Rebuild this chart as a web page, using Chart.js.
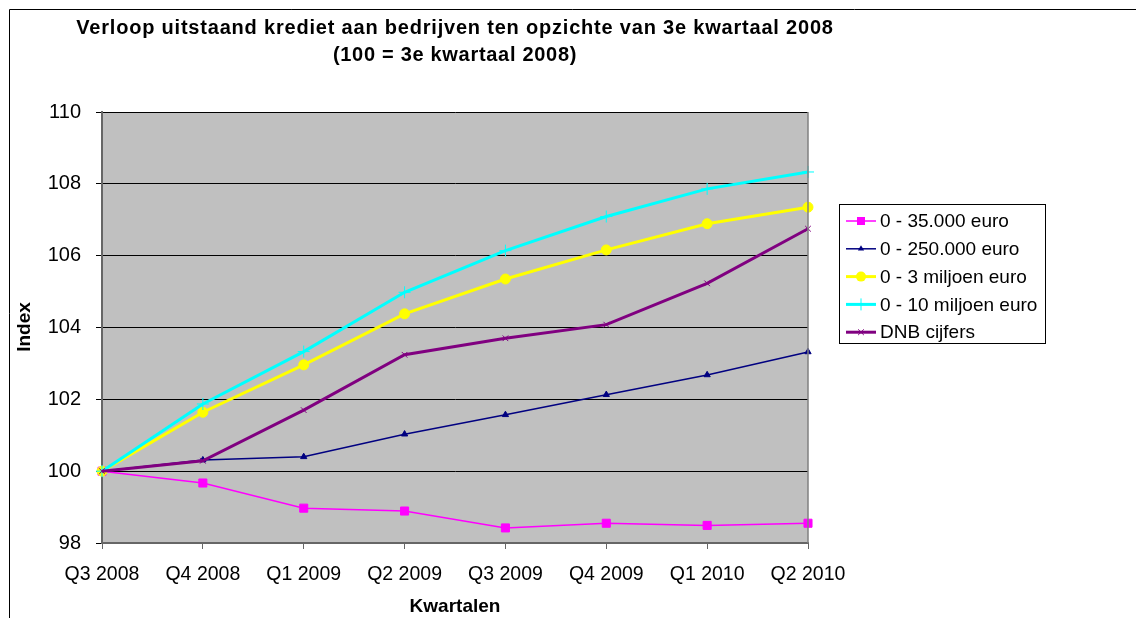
<!DOCTYPE html>
<html>
<head>
<meta charset="utf-8">
<title>Verloop uitstaand krediet</title>
<script src="https://cdn.jsdelivr.net/npm/chart.js"></script>
<style>
    body { margin: 0; background: #fff; }
    #wrap { width: 1136px; height: 618px; position: relative; }
</style>
</head>
<body>
<div id="wrap"><canvas id="chart" width="1136" height="618"></canvas></div>
<script>
// Chart data
const quarters = ['Q3 2008', 'Q4 2008', 'Q1 2009', 'Q2 2009', 'Q3 2009', 'Q4 2009', 'Q1 2010', 'Q2 2010'];
const upTo35k = [100, 99.67, 98.97, 98.89, 98.42, 98.55, 98.49, 98.55];
const upTo250k = [100, 100.31, 100.40, 101.03, 101.57, 102.13, 102.68, 103.32];
const upTo3m = [100, 101.64, 102.96, 104.38, 105.35, 106.16, 106.89, 107.35];
const upTo10m = [100, 101.87, 103.33, 104.98, 106.14, 107.09, 107.86, 108.33];
const dnb = [100, 100.29, 101.70, 103.24, 103.70, 104.08, 105.23, 106.75];
const yTicks = [98, 100, 102, 104, 106, 108, 110];

const FONT = '"Liberation Sans", Arial, sans-serif';

// Series styling (legend order)
const series = [
    { label: '0 - 35.000 euro', data: upTo35k, color: '#FF00FF', width: 1.5, style: 'rect', radius: 5.7 },
    { label: '0 - 250.000 euro', data: upTo250k, color: '#000080', width: 1.5, style: 'triangle', radius: 3.6 },
    { label: '0 - 3 miljoen euro', data: upTo3m, color: '#FFFF00', width: 3, style: 'circle', radius: 5 },
    { label: '0 - 10 miljoen euro', data: upTo10m, color: '#00FFFF', width: 3, style: 'cross', radius: 6 },
    { label: 'DNB cijfers', data: dnb, color: '#800080', width: 3, style: 'crossRot', radius: 4 }
];

// Simple marker drawing for the legend
function drawMarker(ctx, s, x, y) {
    const r = s.radius;
    ctx.save();
    ctx.fillStyle = s.color;
    ctx.strokeStyle = s.color;
    ctx.lineWidth = 1;
    ctx.beginPath();
    if (s.style === 'rect') {
        const h = r * Math.SQRT1_2;
        ctx.rect(x - h, y - h, 2 * h, 2 * h);
        ctx.fill();
    } else if (s.style === 'triangle') {
        ctx.moveTo(x, y - r);
        ctx.lineTo(x + r * 0.866, y + r * 0.5);
        ctx.lineTo(x - r * 0.866, y + r * 0.5);
        ctx.closePath();
        ctx.fill();
    } else if (s.style === 'circle') {
        ctx.arc(x, y, r, 0, Math.PI * 2);
        ctx.fill();
    } else if (s.style === 'cross') {
        ctx.moveTo(x - r, y); ctx.lineTo(x + r, y);
        ctx.moveTo(x, y - r); ctx.lineTo(x, y + r);
        ctx.stroke();
    } else {
        const o = r * Math.SQRT1_2;
        ctx.moveTo(x - o, y - o); ctx.lineTo(x + o, y + o);
        ctx.moveTo(x - o, y + o); ctx.lineTo(x + o, y - o);
        ctx.stroke();
    }
    ctx.restore();
}

// Background, frame, titles and legend
const excelLook = {
    id: 'excelLook',
    beforeDraw(chart) {
        const { ctx, chartArea: a } = chart;
        ctx.save();
        ctx.fillStyle = '#C0C0C0';
        ctx.fillRect(a.left, a.top, a.right - a.left, a.bottom - a.top);
        ctx.restore();
    },
    afterDraw(chart) {
        const { ctx, chartArea: a } = chart;
        ctx.save();
        // plot border right
        ctx.strokeStyle = '#808080';
        ctx.lineWidth = 1.5;
        ctx.beginPath();
        ctx.moveTo(a.right, a.top);
        ctx.lineTo(a.right, a.bottom);
        ctx.stroke();

        // outer frame
        ctx.strokeStyle = '#000';
        ctx.lineWidth = 1;
        ctx.beginPath();
        ctx.moveTo(9.5, 618);
        ctx.lineTo(9.5, 9.5);
        ctx.lineTo(1136, 9.5);
        ctx.stroke();

        // titles
        ctx.fillStyle = '#000';
        ctx.textAlign = 'center';
        ctx.textBaseline = 'middle';
        const cx = (a.left + a.right) / 2;
        ctx.font = 'bold 20px ' + FONT;
        ctx.letterSpacing = '0.8px';
        ctx.fillText('Verloop uitstaand krediet aan bedrijven ten opzichte van 3e kwartaal 2008', cx, 28);
        ctx.letterSpacing = '0.7px';
        ctx.fillText('(100 = 3e kwartaal 2008)', cx, 55);
        ctx.letterSpacing = '0px';
        ctx.font = 'bold 19px ' + FONT;
        ctx.fillText('Kwartalen', cx, 607);
        ctx.save();
        ctx.translate(25, 327);
        ctx.rotate(-Math.PI / 2);
        ctx.fillText('Index', 0, 0);
        ctx.restore();

        // legend
        ctx.fillStyle = '#fff';
        ctx.fillRect(839.5, 204.5, 206, 139);
        ctx.strokeStyle = '#000';
        ctx.lineWidth = 1;
        ctx.strokeRect(839.5, 204.5, 206, 139);
        ctx.font = '19px ' + FONT;
        ctx.textAlign = 'left';
        series.forEach((s, i) => {
            const y = 221 + i * 27.8;
            ctx.strokeStyle = s.color;
            ctx.lineWidth = s.width;
            ctx.beginPath();
            ctx.moveTo(846, y);
            ctx.lineTo(876, y);
            ctx.stroke();
            drawMarker(ctx, s, 861, y);
            ctx.fillStyle = '#000';
            ctx.fillText(s.label, 880, y + 1);
        });
        ctx.restore();
    }
};

new Chart(document.getElementById('chart'), {
    type: 'line',
    data: {
        labels: quarters,
        datasets: series.map((s, i) => ({
            label: s.label,
            data: s.data,
            borderColor: s.color,
            backgroundColor: s.color,
            borderWidth: s.width,
            pointStyle: s.style,
            pointRadius: s.radius,
            pointBorderWidth: 1,
            pointBorderColor: s.color,
            pointBackgroundColor: s.color,
            tension: 0,
            fill: false,
            order: series.length - i
        }))
    },
    options: {
        responsive: false,
        animation: false,
        devicePixelRatio: 1,
        layout: { padding: { top: 112, right: 328, left: 0, bottom: 0 } },
        plugins: {
            legend: { display: false },
            title: { display: false },
            tooltip: { enabled: false }
        },
        scales: {
            x: {
                offset: false,
                afterFit(scale) { scale.height = 75; },
                grid: { drawOnChartArea: false, drawTicks: true, tickLength: 6, color: '#666' },
                border: { color: '#666', width: 2 },
                ticks: { color: '#000', font: { family: FONT, size: 19.5 }, padding: 14, maxRotation: 0 }
            },
            y: {
                min: 98,
                max: 110,
                afterFit(scale) { scale.width = 102; },
                afterBuildTicks(scale) { scale.ticks = yTicks.map(v => ({ value: v })); },
                grid: { color: '#000', lineWidth: 1, drawTicks: true, tickLength: 6 },
                border: { color: '#666', width: 2 },
                ticks: { color: '#000', font: { family: FONT, size: 20 }, padding: 15 }
            }
        }
    },
    plugins: [excelLook]
});
</script>
</body>
</html>
